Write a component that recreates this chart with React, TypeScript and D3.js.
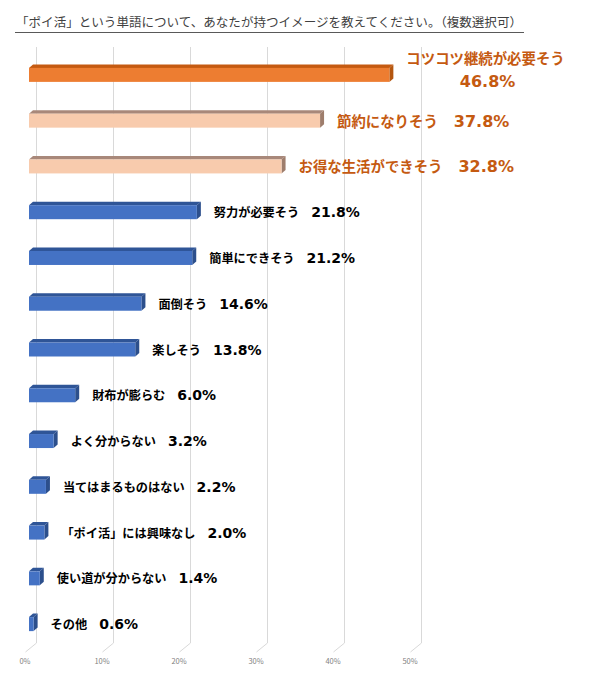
import React, { useEffect, useRef } from "react";
import * as d3 from "d3";

const title =
  "「ポイ活」という単語について、あなたが持つイメージを教えてください。（複数選択可）";

const categories = [
  "コツコツ継続が必要そう",
  "節約になりそう",
  "お得な生活ができそう",
  "努力が必要そう",
  "簡単にできそう",
  "面倒そう",
  "楽しそう",
  "財布が膨らむ",
  "よく分からない",
  "当てはまるものはない",
  "「ポイ活」には興味なし",
  "使い道が分からない",
  "その他",
];

const values = [46.8, 37.8, 32.8, 21.8, 21.2, 14.6, 13.8, 6.0, 3.2, 2.2, 2.0, 1.4, 0.6];

// 0 = top answer, 1 = runners-up, 2 = the rest
const tiers = [0, 1, 1, 2, 2, 2, 2, 2, 2, 2, 2, 2, 2];

const ticks = [0, 10, 20, 30, 40, 50];

const W = 590;
const H = 681;

const palette = [
  { front: "#ED7D31", top: "#C55A11", side: "#B4560F" },
  { front: "#F8CBAD", top: "#A8887A", side: "#9E7D6C" },
  { front: "#4472C4", top: "#2F5597", side: "#2C4F8C" },
];

export default function App() {
  const ref = useRef<SVGSVGElement>(null);

  useEffect(() => {
    if (!ref.current) return;
    const svg = d3.select(ref.current);
    svg.selectAll("*").remove();

    const x = d3.scaleLinear().domain([0, 50]).range([29, 414]);
    const y = d3
      .scaleBand<string>()
      .domain(categories)
      .range([52, 647])
      .padding(0);

    const font = "'Noto Sans CJK JP', 'Noto Sans', sans-serif";
    const numFont = "'DejaVu Sans', Verdana, sans-serif";
    const depthX = 4;
    const depthY = 3.5;

    svg.append("rect").attr("width", W).attr("height", H).attr("fill", "#fff");

    // title
    svg
      .append("text")
      .attr("x", 16)
      .attr("y", 27)
      .attr("font-family", font)
      .attr("font-size", 12.3)
      .attr("fill", "#404040")
      .attr("textLength", 506)
      .attr("lengthAdjust", "spacingAndGlyphs")
      .text(title);
    svg
      .append("line")
      .attr("x1", 15)
      .attr("x2", 524)
      .attr("y1", 32.5)
      .attr("y2", 32.5)
      .attr("stroke", "#595959")
      .attr("stroke-width", 1);

    // back wall gridlines + floor diagonals
    const grid = svg.append("g").attr("stroke", "#d9d9d9").attr("fill", "none");
    ticks.forEach((t) => {
      const gx = x(t) + 7.5;
      grid
        .append("polyline")
        .attr("points", `${gx},47 ${gx},643 ${gx - 11},652`)
        .attr("stroke-width", 1);
    });

    svg
      .append("g")
      .selectAll("text")
      .data(ticks)
      .join("text")
      .attr("x", (t) => x(t) - 4)
      .attr("y", 664)
      .attr("text-anchor", "middle")
      .attr("font-family", font)
      .attr("font-size", 7.5)
      .attr("fill", "#7f7f7f")
      .text((t) => `${t}%`);

    // bars
    const bars = svg
      .append("g")
      .selectAll("g")
      .data(categories)
      .join("g");

    bars.each(function (c, i) {
      const g = d3.select(this);
      const cy = (y(c) ?? 0) + y.bandwidth() / 2;
      const x0 = x(0);
      const x1 = x(values[i]);
      const top = cy - 7;
      const bot = cy + 7;
      const col = palette[tiers[i]];
      g.append("path")
        .attr(
          "d",
          `M${x0},${top}L${x0 + depthX},${top - depthY}L${x1 + depthX},${top - depthY}L${x1},${top}Z`,
        )
        .attr("fill", col.top);
      g.append("path")
        .attr(
          "d",
          `M${x1},${top}L${x1 + depthX},${top - depthY}L${x1 + depthX},${bot - depthY}L${x1},${bot}Z`,
        )
        .attr("fill", col.side);
      g.append("rect")
        .attr("x", x0)
        .attr("y", top)
        .attr("width", x1 - x0)
        .attr("height", bot - top)
        .attr("fill", col.front);
    });

    // labels
    categories.forEach((c, i) => {
      const cy = (y(c) ?? 0) + y.bandwidth() / 2;
      const lx = x(values[i]) + depthX + 13;
      const tier = tiers[i];
      const value = `${values[i].toFixed(1)}%`;

      if (tier === 0) {
        const nameW = c.length * 14.4;
        svg
          .append("text")
          .attr("x", lx)
          .attr("y", cy - 11)
          .attr("font-family", font)
          .attr("font-weight", "bold")
          .attr("font-size", 14.4)
          .attr("fill", "#C55A11")
          .text(c);
        svg
          .append("text")
          .attr("x", lx + nameW / 2 + 2)
          .attr("y", cy + 12)
          .attr("text-anchor", "middle")
          .attr("font-family", numFont)
          .attr("font-weight", "bold")
          .attr("font-size", 16)
          .attr("fill", "#C55A11")
          .text(value);
        return;
      }

      const big = tier === 1;
      const t = svg
        .append("text")
        .attr("x", lx)
        .attr("y", cy + (big ? 6 : 5))
        .attr("font-family", font)
        .attr("font-weight", "bold")
        .attr("fill", big ? "#C55A11" : "#000");
      t.append("tspan")
        .attr("font-size", big ? 14.4 : 12.2)
        .text(c);
      t.append("tspan")
        .attr("dx", big ? 16 : 12)
        .attr("font-family", numFont)
        .attr("font-size", big ? 16 : 14)
        .text(value);
    });
  }, []);

  return (
    <svg
      ref={ref}
      width={W}
      height={H}
      style={{ position: "absolute", left: 0, top: 0, display: "block" }}
    />
  );
}
